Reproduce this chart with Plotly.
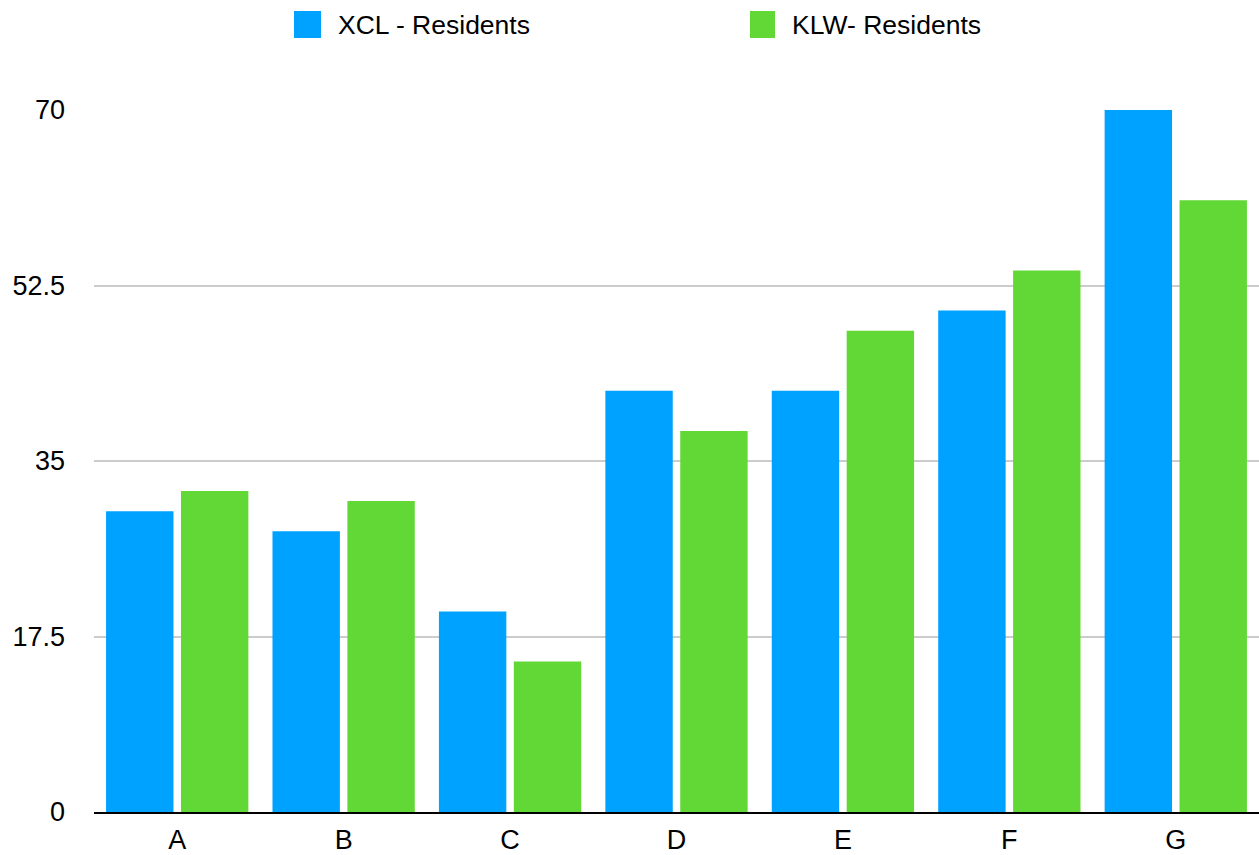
import plotly.graph_objects as go

# Chart data
categories = ["A", "B", "C", "D", "E", "F", "G"]
xcl_residents = [30, 28, 20, 42, 42, 50, 70]
klw_residents = [32, 31, 15, 38, 48, 54, 61]
series_names = ["XCL - Residents", "KLW- Residents"]
series_colors = ["#00A2FF", "#61D836"]
y_tick_values = [0, 17.5, 35, 52.5, 70]
y_tick_labels = ["0", "17.5", "35", "52.5", "70"]

# Page geometry
W, H = 1259, 855
M_L, M_R, M_T, M_B = 94, 0, 110, 43
PLOT_W = W - M_L - M_R
PLOT_H = H - M_T - M_B

FONT = "Liberation Sans, Arial, Helvetica, sans-serif"
FONT_SIZE = 27


def paper_x(px):
    return (px - M_L) / PLOT_W


def paper_y(py):
    return (H - M_B - py) / PLOT_H


fig = go.Figure()
for name, values, color in zip(series_names, [xcl_residents, klw_residents], series_colors):
    fig.add_trace(go.Bar(
        x=categories, y=values, name=name,
        marker=dict(color=color, line=dict(width=0)),
        showlegend=False,
    ))

# Custom legend: large colour swatches followed by the series names
legend_items = [
    (294, 321, 337),
    (750, 775, 791),
]
shapes = []
annotations = []
for (sx0, sx1, tx), name, color in zip(legend_items, series_names, series_colors):
    shapes.append(dict(
        type="rect", xref="paper", yref="paper",
        x0=paper_x(sx0), x1=paper_x(sx1),
        y0=paper_y(38), y1=paper_y(11),
        fillcolor=color, line=dict(width=0), layer="above",
    ))
    annotations.append(dict(
        xref="paper", yref="paper", x=paper_x(tx), y=paper_y(25),
        xanchor="left", yanchor="middle", showarrow=False,
        text=name, font=dict(family=FONT, size=26.5, color="#000000"),
        borderpad=0,
    ))

fig.update_layout(
    width=W, height=H,
    margin=dict(l=M_L, r=M_R, t=M_T, b=M_B, pad=0, autoexpand=False),
    paper_bgcolor="white", plot_bgcolor="white",
    barmode="group", bargap=0.1, bargroupgap=0.1,
    font=dict(family=FONT, size=FONT_SIZE, color="#000000"),
    shapes=shapes, annotations=annotations,
    showlegend=False,
)
fig.update_yaxes(
    range=[0, 70], tickvals=y_tick_values, ticktext=y_tick_labels,
    showgrid=True, gridcolor="#CCCCCC", gridwidth=2,
    zeroline=False, showline=False, ticks="",
    ticklabelstandoff=28, automargin=False,
    tickfont=dict(family=FONT, size=FONT_SIZE, color="#000000"),
)
fig.update_xaxes(
    showline=True, linecolor="#000000", linewidth=2,
    showgrid=False, ticks="", ticklabelstandoff=3, automargin=False,
    tickfont=dict(family=FONT, size=FONT_SIZE, color="#000000"),
)

fig.write_html("out.html")
